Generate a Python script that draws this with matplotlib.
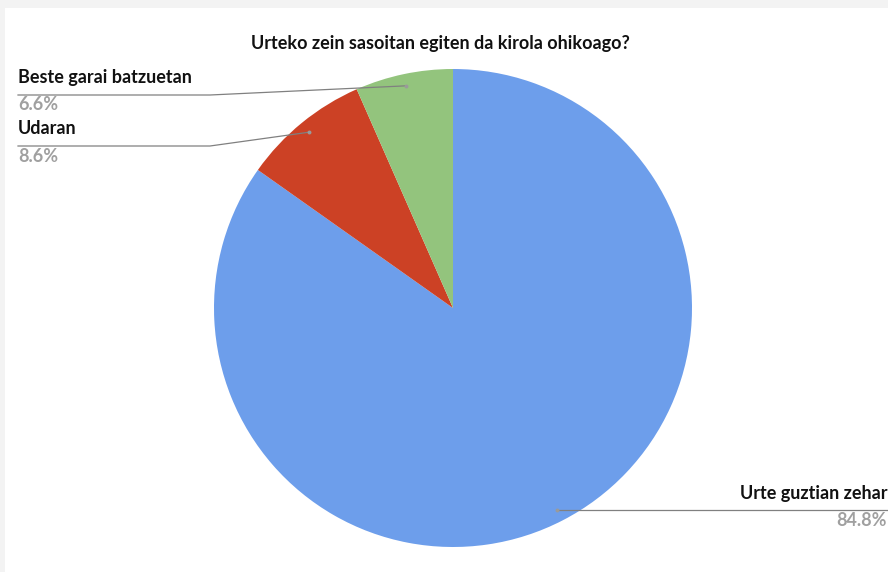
import numpy as np
import matplotlib.pyplot as plt
from matplotlib.patches import Rectangle

categories = ["Urte guztian zehar", "Udaran", "Beste garai batzuetan"]
values = [84.8, 8.6, 6.6]
colors = ["#6d9eeb", "#cc4125", "#93c47d"]
title = "Urteko zein sasoitan egiten da kirola ohikoago?"

W, H = 888, 572
plt.rcParams["font.family"] = ["Lato", "DejaVu Sans"]

fig = plt.figure(figsize=(W / 100, H / 100), dpi=100)
fig.patch.set_facecolor("#f3f3f3")
ax = fig.add_axes([0, 0, 1, 1])


def py(y):
    # pixel row (from top) to data y
    return H - y


ax.add_patch(Rectangle((5, 0), W - 5, H - 8, facecolor="white", edgecolor="none", zorder=0))

cx, cy, R = 453, py(308), 239
ax.pie(values, colors=colors, startangle=90, counterclock=False,
       center=(cx, cy), radius=R, wedgeprops=dict(linewidth=0), frame=False)
ax.set_xlim(0, W)
ax.set_ylim(0, H)
ax.set_aspect("equal")
ax.axis("off")

# label anchor points at slice mid-angles
total = sum(values)
start = 90.0
anchors = []
for v in values:
    sweep = v / total * 360
    mid = np.deg2rad(start - sweep / 2)
    anchors.append((cx + 0.95 * R * np.cos(mid), cy + 0.95 * R * np.sin(mid)))
    start -= sweep

line_kw = dict(color="#808080", lw=0.9, zorder=3)
dot_kw = dict(color="#9a9a9a", s=8, zorder=4, linewidths=0)
fs = 13

# left-side labels: Beste garai batzuetan (idx 2), Udaran (idx 1)
left = [(2, 78, 95, 104), (1, 129, 146, 157)]
for idx, ty, ly, vy in left:
    axp, ayp = anchors[idx]
    ax.plot([18, 210, axp], [py(ly), py(ly), ayp], **line_kw)
    ax.scatter([axp], [ayp], **dot_kw)
    ax.text(18, py(ty), categories[idx], fontsize=fs, fontweight="bold",
            color="#111111", ha="left", va="center")
    ax.text(18, py(vy), f"{values[idx]}%", fontsize=fs, fontweight="bold",
            color="#a0a0a0", ha="left", va="center")

# right-side label: Urte guztian zehar
axp, ayp = anchors[0]
ax.plot([axp, W], [ayp, ayp], **line_kw)
ax.scatter([axp], [ayp], **dot_kw)
ax.text(887, ayp + 16, categories[0], fontsize=fs, fontweight="bold",
        color="#111111", ha="right", va="center")
ax.text(887, ayp - 11, f"{values[0]}%", fontsize=fs, fontweight="bold",
        color="#a0a0a0", ha="right", va="center")

ax.text(440, py(44), title, fontsize=13, fontweight="bold",
        color="#111111", ha="center", va="center")

fig.savefig("out.png", dpi=100, facecolor=fig.get_facecolor())
